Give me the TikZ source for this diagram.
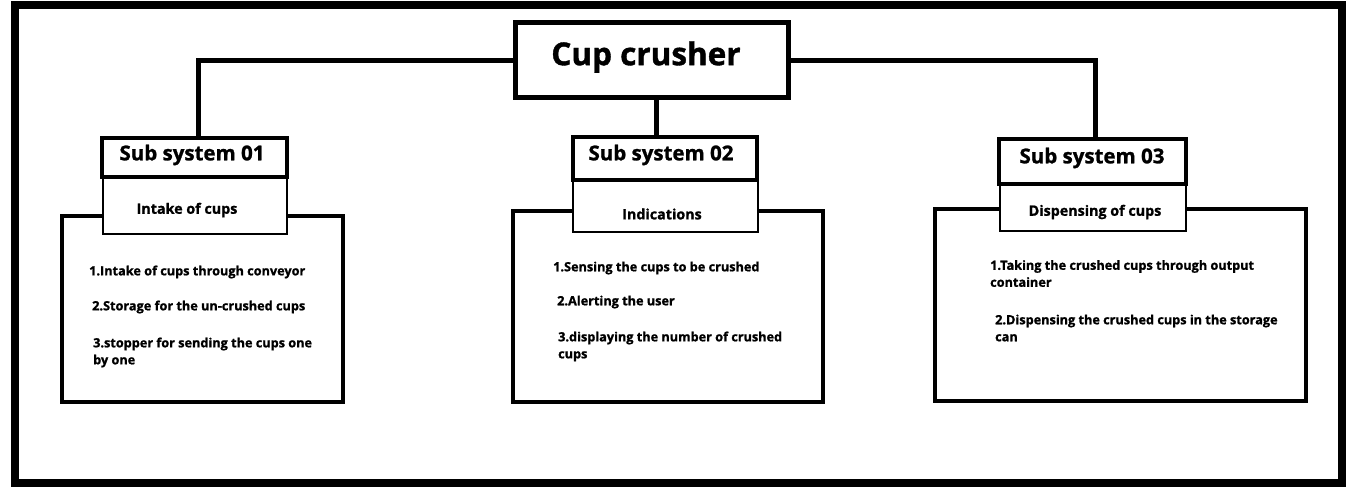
\documentclass[tikz,border=0pt]{standalone}
\usepackage{fontspec}
\setmainfont{Open Sans}[BoldFeatures={FakeBold=1.2}]
\begin{document}
\begin{tikzpicture}[x=1pt,y=-1pt,
  box/.style={draw,line width=#1,inner sep=0pt,fill=white},
  conn/.style={line width=5pt},
  titlefont/.style={font=\bfseries\fontsize{31.5}{34}\selectfont},
  subfont/.style={font=\bfseries\fontsize{20.5}{23}\selectfont},
  capfont/.style={font=\bfseries\fontsize{14.3}{16}\selectfont},
  itemfont/.style={font=\bfseries\fontsize{12.7}{17}\selectfont,anchor=west,align=left,inner sep=0pt}]
\useasboundingbox (0,0) rectangle (1357,490);
\fill[white] (0,0) rectangle (1357,490);
\draw[line width=7.5pt] (15,5) rectangle (1342,483);

% main box
\node[box=5pt,minimum width=273pt,minimum height=75pt] (main) at (651.5,59.5) {};
\node[titlefont] (mainlbl) at (646,57) {Cup crusher};

% big content boxes
\node[box=4pt,minimum width=281pt,minimum height=186pt] (big1) at (202.5,309) {};
\node[box=4pt,minimum width=310pt,minimum height=191pt] (big2) at (668,306.5) {};
\node[box=4pt,minimum width=371pt,minimum height=192pt] (big3) at (1120.5,305) {};

% caption boxes
\node[box=1.5pt,minimum width=184pt,minimum height=57pt] (cap1) at (195,205.5) {};
\node[box=1.5pt,minimum width=185pt,minimum height=52pt] (cap2) at (665.5,206) {};
\node[box=1.5pt,minimum width=186pt,minimum height=47pt] (cap3) at (1093,207.5) {};

% sub system title boxes
\node[box=4pt,minimum width=185pt,minimum height=39pt] (sub1) at (194.5,157.5) {};
\node[box=4pt,minimum width=184pt,minimum height=43pt] (sub2) at (665,158.5) {};
\node[box=4pt,minimum width=187pt,minimum height=45pt] (sub3) at (1092.5,161.5) {};

% connectors
\coordinate (jl) at (198,60);
\coordinate (jr) at (1095,60);
\draw[conn] (main.west |- jl) -- (jl) -- (jl |- sub1.north);
\draw[conn] (main.east |- jr) -- (jr) -- (jr |- sub3.north);
\draw[conn] (main.south -| 656,0) -- (sub2.north -| 656,0);

% labels
\node[subfont] (sub1lbl) at (192,155) {Sub system 01};
\node[subfont] (sub2lbl) at (661,155) {Sub system 02};
\node[subfont] (sub3lbl) at (1092,158) {Sub system 03};
\node[capfont] (cap1lbl) at (187,210) {Intake of cups};
\node[capfont] (cap2lbl) at (662,214) {Indications};
\node[capfont] (cap3lbl) at (1095,212) {Dispensing of cups};

% items
\node[itemfont] (i11) at (89,272) {1.Intake of cups through conveyor};
\node[itemfont] (i12) at (92,307) {2.Storage for the un-crushed cups};
\node[itemfont] (i13) at (93,352.5) {3.stopper for sending the cups one\\by one};

\node[itemfont] (i21) at (553,268) {1.Sensing the cups to be crushed};
\node[itemfont] (i22) at (557,302) {2.Alerting the user};
\node[itemfont] (i23) at (558,346.5) {3.displaying the number of crushed\\cups};

\node[itemfont] (i31) at (990,273.5) {1.Taking the crushed cups through output\\container};
\node[itemfont] (i32) at (995,328) {2.Dispensing the crushed cups in the storage\\can};
\end{tikzpicture}
\end{document}
